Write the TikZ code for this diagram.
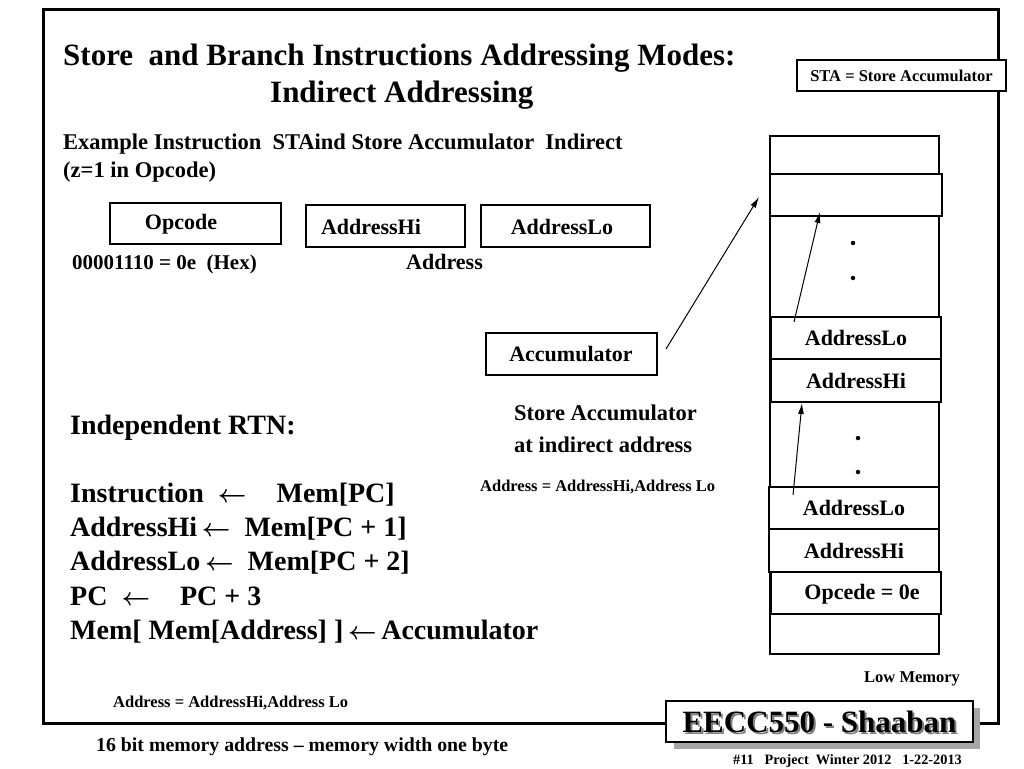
\documentclass[tikz,border=0pt]{standalone}
\usepackage{fontspec}
\setmainfont{Liberation Serif}
\usetikzlibrary{arrows.meta}
\newcommand{\fsz}[1]{\fontsize{#1}{#1}\selectfont\bfseries}
\newcommand{\larr}{\mbox{\boldmath$\leftarrow$}}
\tikzset{
  txt/.style={inner sep=0pt, anchor=base west, font=\fsz{#1}},
  ctxt/.style={inner sep=0pt, anchor=center, font=\fsz{#1}},
  boxcell/.style={draw, line width=1.3pt},
  memcell/.style={draw, line width=1.3pt, fill=white},
  ptr/.style={line width=1pt, -{Latex[length=11pt,width=6pt]}},
  dotm/.style={circle, fill=black, inner sep=0pt, minimum size=4.5pt}
}
\begin{document}
\begin{tikzpicture}[x=1pt,y=-1pt]
\useasboundingbox (0,0) rectangle (1024,768);
\fill[white] (0,0) rectangle (1024,768);
% frame
\draw[line width=3pt] (43,10) rectangle (998,723);
% title
\node[txt=31] (t1) at (63,66) {Store\ \ and Branch Instructions Addressing Modes:};
\node[txt=31] (t2) at (270,102) {Indirect Addressing};
% STA box
\node[draw, line width=1.3pt, fill=white, minimum width=209pt, minimum height=31pt, inner sep=0pt, font=\fsz{16.5}] (sta) at (901.5,75.5) {STA = Store Accumulator};
% example text
\node[txt=22.5] (ex1) at (63,149) {Example Instruction\ \ STAind Store Accumulator\ \ Indirect};
\node[txt=22.5] (ex2) at (63,177) {(z=1 in Opcode)};
% instruction format boxes
\draw[boxcell] (110,203) rectangle (281,244);
\node[ctxt=22] (opc) at (181,224) {Opcode};
\draw[boxcell] (306,205) rectangle (465,247);
\node[ctxt=22] (ahi) at (371,227) {AddressHi};
\draw[boxcell] (481,205) rectangle (650,247);
\node[ctxt=22] (alo) at (562,227) {AddressLo};
\node[txt=21] (hex) at (72,269) {00001110 = 0e\ \ (Hex)};
\node[txt=22] (addr) at (406,269) {Address};
% accumulator
\draw[boxcell] (486,333) rectangle (657,375);
\node[ctxt=22] (acc) at (571,354) {Accumulator};
\node[txt=22.5] (sa1) at (514,420) {Store Accumulator};
\node[txt=22.5] (sa2) at (514,452) {at indirect address};
\node[txt=16.5] (aeq1) at (480,491) {Address = AddressHi,Address Lo};
% RTN
\node[txt=28] (rtn) at (70,434) {Independent RTN:};
\node[txt=28] (r1) at (70,502) {Instruction\ \ \larr\hspace{30pt}Mem[PC]};
\node[txt=28] (r2) at (70,536) {AddressHi\,\larr\ \ Mem[PC + 1]};
\node[txt=28] (r3) at (70,570) {AddressLo\,\larr\ \ Mem[PC + 2]};
\node[txt=28] (r4) at (70,605) {PC\ \ \larr\hspace{30pt}PC + 3};
\node[txt=28] (r5) at (70,639) {Mem[ Mem[Address] ]\,\larr\,Accumulator};
\node[txt=16.5] (aeq2) at (113,707) {Address = AddressHi,Address Lo};
\node[txt=19.8] (bits) at (96,751) {16 bit memory address -- memory width one byte};
% memory column
\draw[line width=1.3pt] (770,136) rectangle (939,654);
\draw[memcell] (770,174) rectangle (942,216);
\node[memcell, minimum width=170pt, minimum height=42pt, inner sep=0pt, font=\fsz{22}] (mlo1) at (856,338) {AddressLo};
\node[memcell, minimum width=170pt, minimum height=43pt, inner sep=0pt, font=\fsz{22}] (mhi1) at (856,380.5) {AddressHi};
\node[memcell, line width=1.8pt, minimum width=170pt, minimum height=42pt, inner sep=0pt, font=\fsz{22}] (mlo2) at (854,508) {AddressLo};
\node[memcell, line width=1.8pt, minimum width=170pt, minimum height=43pt, inner sep=0pt, font=\fsz{22}] (mhi2) at (854,550.5) {AddressHi};
\draw[memcell] (771,572) rectangle (941,614);
\node[ctxt=22] (mop) at (862,594) {Opcede = 0e};
\node[dotm] (d1) at (853,243) {};
\node[dotm] (d2) at (853,278) {};
\node[dotm] (d3) at (858,438) {};
\node[dotm] (d4) at (858,472) {};
\node[txt=16.5] (low) at (864,682) {Low Memory};
% pointers
\coordinate (p1s) at (666,349);
\coordinate (p1e) at (759,197);
\coordinate (p2s) at (794,322);
\coordinate (p2e) at (820,212);
\coordinate (p3s) at (793,495);
\coordinate (p3e) at (802,403);
\draw[ptr] (p1s) -- (p1e);
\draw[ptr] (p2s) -- (p2e);
\draw[ptr] (p3s) -- (p3e);
% EECC550 badge
\fill[gray!70] (674,708) rectangle (980,749);
\draw[line width=1.3pt, fill=white] (666,701) rectangle (973,742);
\node[ctxt=31, text=gray] (badgesh) at (821.5,723.5) {EECC550 - Shaaban};
\node[ctxt=31] (badge) at (819.5,721.5) {EECC550 - Shaaban};
\node[txt=14.3] (foot) at (733,764) {\#11\ \ \ Project\ \ Winter 2012\ \ \ 1-22-2013};
\end{tikzpicture}
\end{document}
